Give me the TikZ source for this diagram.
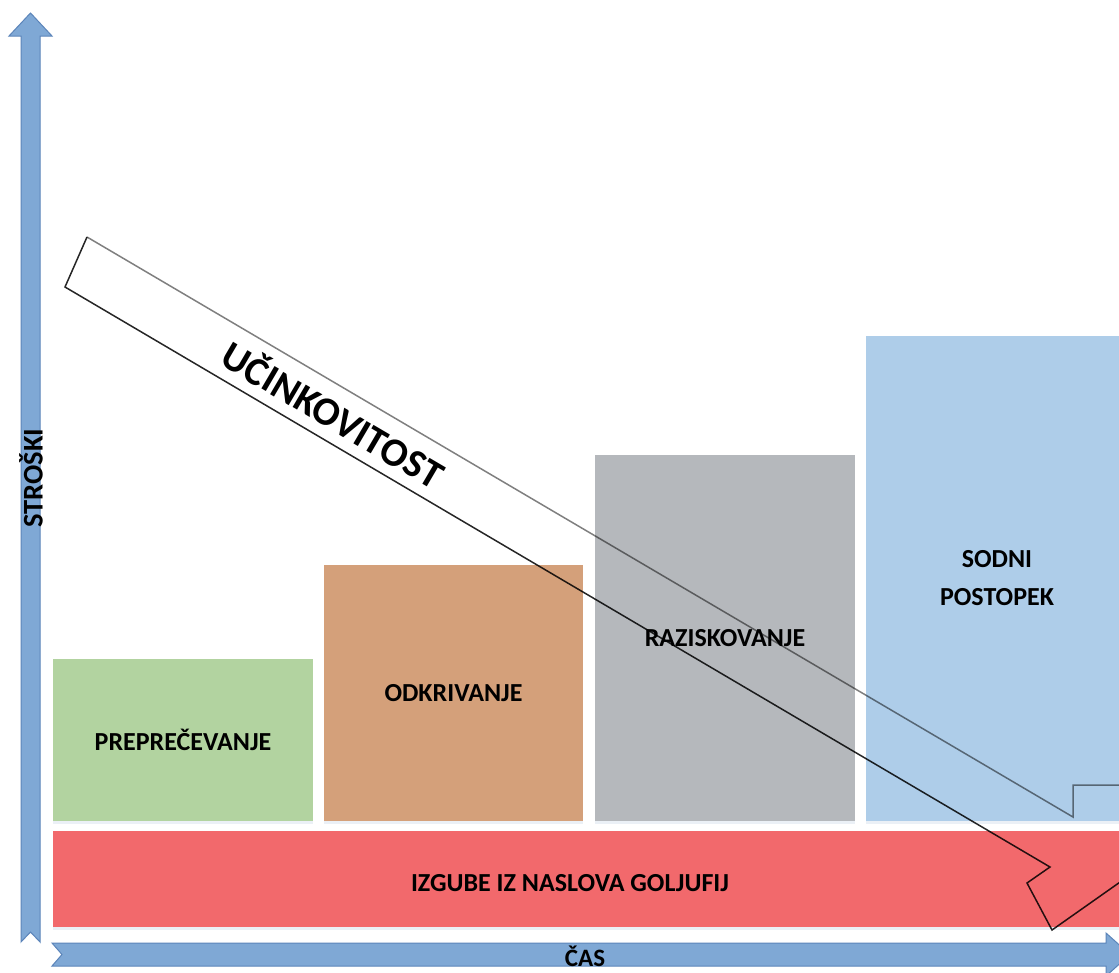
\documentclass[tikz,border=0pt]{standalone}
\usepackage{fontspec}
\setmainfont{Carlito}
\usetikzlibrary{shadows}
\definecolor{prevgreen}{RGB}{178,211,160}
\definecolor{detorange}{RGB}{212,160,122}
\definecolor{invgray}{RGB}{181,184,188}
\definecolor{courtblue}{RGB}{174,205,233}
\definecolor{lossred}{RGB}{242,105,108}
\definecolor{axisfill}{RGB}{127,168,213}
\definecolor{axisline}{RGB}{92,133,186}
\begin{document}
\begin{tikzpicture}[x=1pt,y=-1pt,
  lbl/.style={font=\bfseries\fontsize{26}{38}\selectfont, align=center, inner sep=0pt},
  stage/.style={lbl, anchor=north west, outer sep=0pt,
    drop shadow={shadow xshift=0pt, shadow yshift=-3pt, opacity=0.12, fill=axisline}},
  axis/.style={fill=axisfill, draw=axisline, line width=1pt, line join=miter},
  rim/.style={line width=1.5pt, line join=miter}]
\clip (0,0) rectangle (1119,972);
\fill[white] (0,0) rectangle (1119,972);

% cost axis (vertical)
\draw[axis] (21,942) -- (21,36) -- (9,36) -- (30.5,13) -- (52,36) -- (40,36)
  -- (40,942) -- (30.5,932) -- cycle;
\node[lbl, font=\bfseries\fontsize{28.5}{30}\selectfont, rotate=90] (costs) at (31,478) {STROŠKI};

% time axis (horizontal)
\draw[axis] (52,943) -- (1106,943) -- (1106,933) -- (1130,954.5) -- (1106,976)
  -- (1106,966) -- (52,966) -- (62,954.5) -- cycle;
\node[lbl, font=\bfseries\fontsize{25}{30}\selectfont] (time) at (585,956) {ČAS};

% stages
\node[stage, fill=prevgreen, minimum width=260, minimum height=162] (prev) at (53,659) {PREPREČEVANJE};
\node[stage, fill=detorange, minimum width=259, minimum height=256] (det) at (324,565) {ODKRIVANJE};
\node[stage, fill=invgray, minimum width=260, minimum height=366] (inv) at (595,455) {RAZISKOVANJE};
\node[stage, fill=courtblue, minimum width=262, minimum height=485] (court) at (866,336) {SODNI\\POSTOPEK};

% losses bar
\node[stage, fill=lossred, minimum width=1090, minimum height=96] (loss) at (53,831) {};
\node[lbl] (losstext) at (570,883) {IZGUBE IZ NASLOVA GOLJUFIJ};

% efficiency ribbon arrow (outline only)
\coordinate (s1) at (87,237);
\coordinate (s2) at (65,287);
\coordinate (u1) at (1073,817);
\coordinate (u2) at (1073,785);
\coordinate (u3) at (1140,785);
\coordinate (l1) at (1050,867);
\coordinate (l2) at (1027,883);
\coordinate (l3) at (1052,930);
\coordinate (l4) at (1140,868);
\draw[rim, draw=black, draw opacity=0.5] (s1) -- (u1) -- (u2) -- (u3);
\draw[rim, draw=black, draw opacity=0.85] (s1) -- (s2) -- (l1) -- (l2) -- (l3) -- (l4);
\node[lbl, font=\bfseries\fontsize{40}{44}\selectfont, rotate=-30.46] (eff) at (334,413) {UČINKOVITOST};
\end{tikzpicture}
\end{document}
